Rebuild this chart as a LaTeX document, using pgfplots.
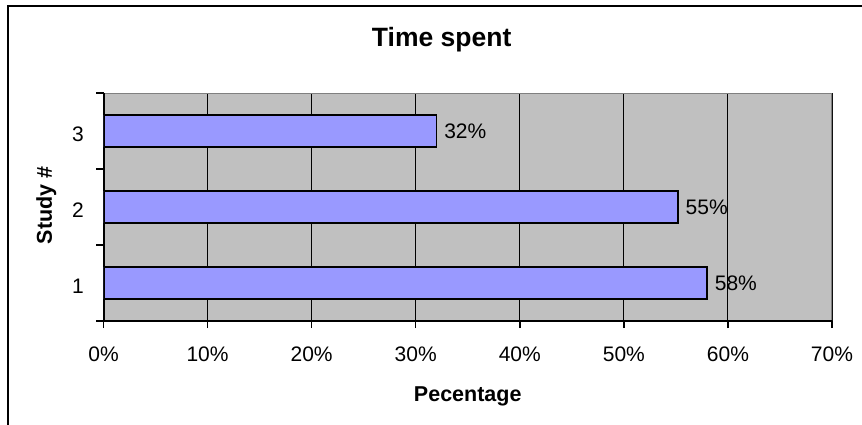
\documentclass[border=0pt]{standalone}
\usepackage{pgfplots}
\pgfplotsset{compat=1.18}
\usepackage{fontspec}
\setmainfont{Liberation Sans}

\definecolor{plotgray}{HTML}{C0C0C0}
\definecolor{bordergray}{HTML}{808080}
\definecolor{barblue}{HTML}{9999FF}

\begin{document}
\begin{tikzpicture}
  \useasboundingbox (0,0) rectangle (862bp,-425bp);
  % chart frame (cut off at right and bottom, as in the original)
  \draw[line width=2bp] (8bp,-426bp) -- (8bp,-6bp) -- (863bp,-6bp);

  \begin{axis}[
      at={(103.5bp,-321bp)},
      anchor=south west,
      scale only axis,
      width=728.5bp,
      height=228bp,
      xbar,
      bar width=32bp,
      xmin=0, xmax=70,
      ymin=0.5, ymax=3.5,
      xtick={0,10,...,70},
      ytick={1,2,3},
      yticklabels={1,2,3},
      xticklabel={\pgfmathprintnumber{\tick}\%},
      /pgf/number format/assume math mode=true,
      /pgf/number format/fixed,
      /pgf/number format/precision=0,
      tick label style={font=\fontsize{21bp}{24bp}\selectfont},
      xtick pos=bottom,
      ytick pos=left,
      tick align=outside,
      major tick length=7bp,
      x tick style={black, line width=1.5bp},
      y tick style={draw=none},
      extra y ticks={0.5,1.5,2.5,3.5},
      extra y tick labels={},
      extra y tick style={y tick style={draw=black, line width=1.5bp}},
      xmajorgrids,
      major grid style={black, line width=1bp},
      axis line style={draw=none},
      axis background/.style={fill=plotgray},
      xticklabel style={anchor=north, inner sep=0pt, yshift=-19bp},
      yticklabel style={anchor=east, inner sep=0pt, xshift=-12.5bp, yshift=-3bp},
      title={Time spent},
      title style={at={(axis description cs:0.4642,1)}, anchor=base,
        yshift=41bp, font=\bfseries\fontsize{26.5bp}{30bp}\selectfont},
      xlabel={Pecentage},
      xlabel style={at={(axis description cs:0.5,0)}, anchor=base,
        yshift=-80bp, font=\bfseries\fontsize{21.5bp}{24bp}\selectfont},
      ylabel={Study \#},
      ylabel style={at={(axis description cs:-0.0707,0.5066)}, anchor=base,
        font=\bfseries\fontsize{21.5bp}{24bp}\selectfont},
      point meta=x,
      nodes near coords={\pgfmathprintnumber{\pgfplotspointmeta}\%},
      every node near coord/.append style={anchor=west, inner sep=0pt,
        xshift=7bp, black, font=\fontsize{21bp}{24bp}\selectfont},
    ]
    \addplot[fill=barblue, draw=black, line width=1.5bp] coordinates {
      (58,1)
      (55.2,2)
      (32,3)
    };
    \draw[bordergray, line width=1.5bp] (rel axis cs:0,1) -- (rel axis cs:1,1) -- (rel axis cs:1,0);
    \draw[black, line width=2bp] (rel axis cs:0,1) -- (rel axis cs:0,0) -- (rel axis cs:1,0);
  \end{axis}
\end{tikzpicture}
\end{document}
